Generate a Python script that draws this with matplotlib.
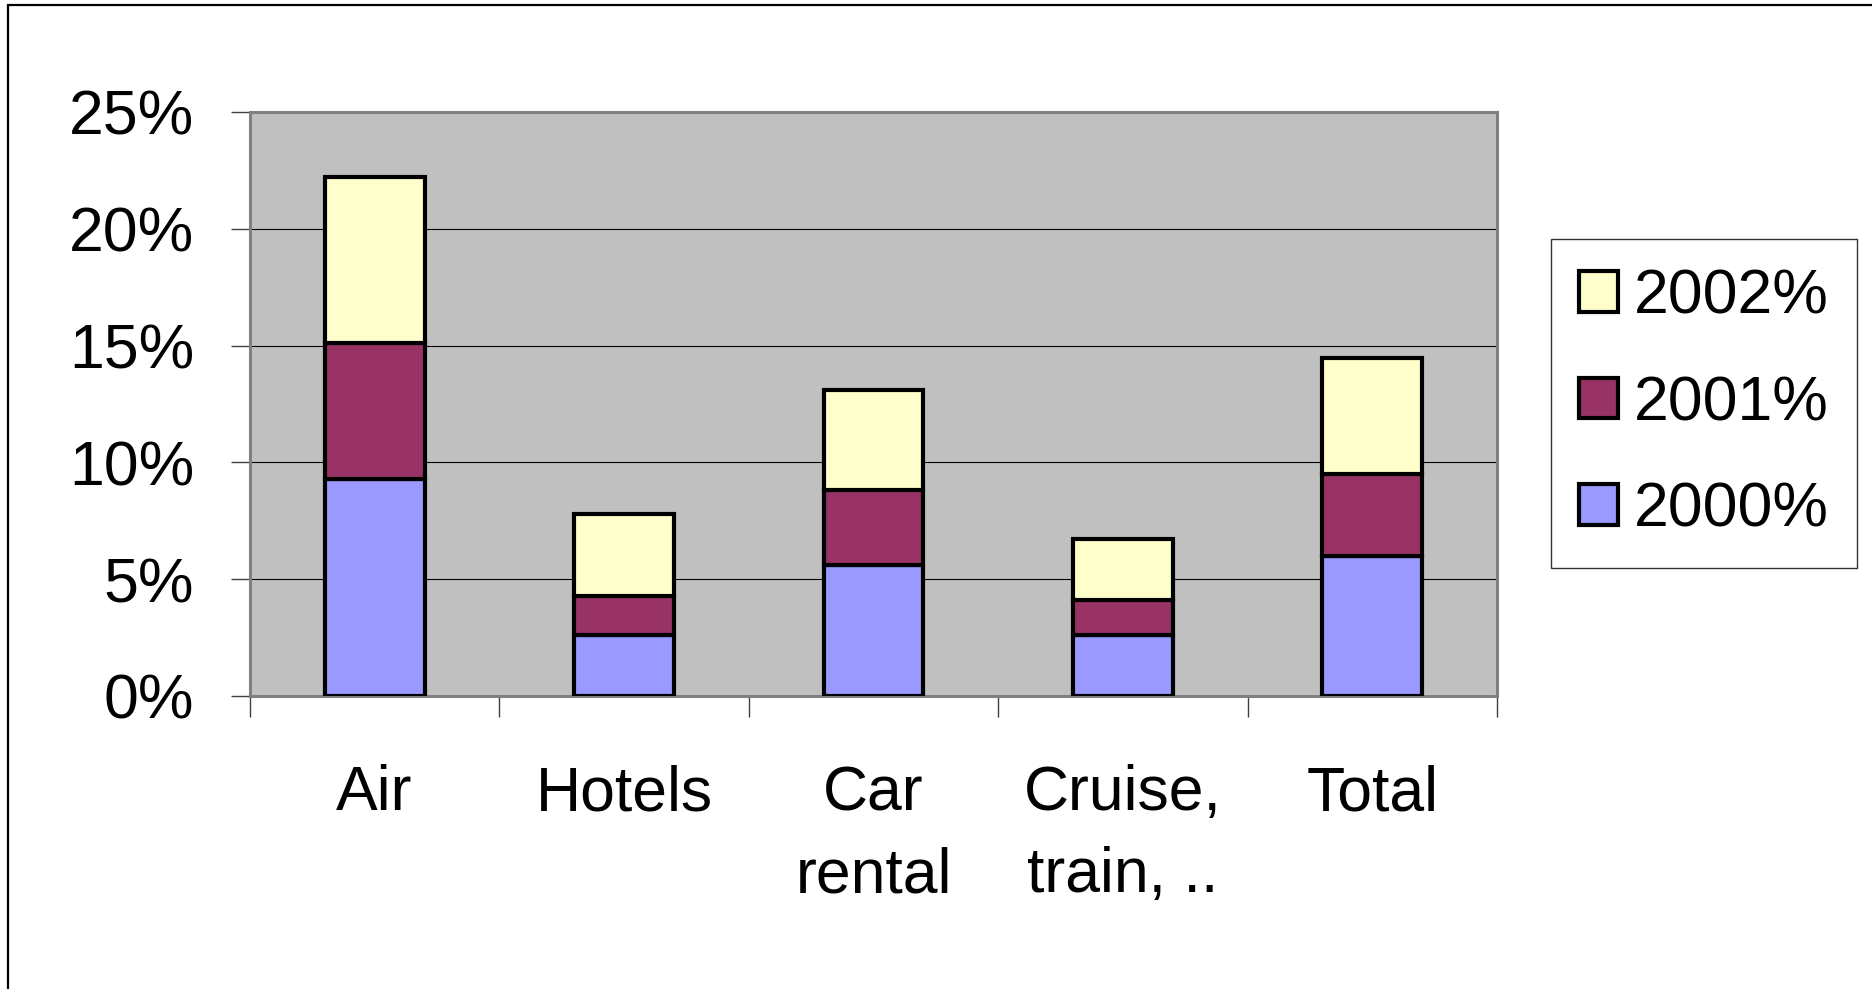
import numpy as np
import matplotlib.pyplot as plt
from matplotlib.patches import Rectangle
from matplotlib.ticker import FixedLocator, FuncFormatter

plt.rcParams['font.family'] = ['Liberation Sans', 'DejaVu Sans']

# travel spending growth by segment, stacked per year (percent)
categories = ['Air', 'Hotels', 'Car\nrental', 'Cruise,\ntrain, ..', 'Total']
years = ['2000%', '2001%', '2002%']
pct_2000 = [9.3, 2.6, 5.6, 2.6, 6.0]
pct_2001 = [5.8, 1.7, 3.2, 1.5, 3.5]
pct_2002 = [7.1, 3.5, 4.3, 2.6, 4.95]
colors = ['#9999FF', '#993366', '#FFFFCC']

fig = plt.figure(figsize=(18.72, 9.89), dpi=100)
ax = fig.add_axes([0.1335, 0.2963, 0.6662, 0.5905])
ax.set_facecolor('#C0C0C0')

x = np.arange(len(categories))
bottom = np.zeros(len(categories))
bars = []
for vals, col, lab in zip([pct_2000, pct_2001, pct_2002], colors, years):
    b = ax.bar(x, vals, width=0.4, bottom=bottom, color=col, edgecolor='black',
               linewidth=3.0, label=lab, zorder=3)
    bars.append(b)
    bottom += np.array(vals)

ax.set_xlim(-0.5, len(categories) - 0.5)
ax.set_ylim(0, 25)
ax.set_yticks(np.arange(0, 26, 5))
ax.yaxis.set_major_formatter(FuncFormatter(lambda v, p: f'{v:.0f}%'))
ax.grid(axis='y', color='black', linewidth=0.8, zorder=1)
ax.set_axisbelow(True)

# category labels in the middle, tick marks on the boundaries
ax.set_xticks(x)
ax.set_xticklabels(categories, linespacing=1.5)
ax.xaxis.set_minor_locator(FixedLocator(np.arange(-0.5, len(categories), 1)))
ax.tick_params(axis='x', which='major', length=0, pad=49, labelsize=45)
ax.tick_params(axis='x', which='minor', length=15, width=1, color='#404040')
ax.tick_params(axis='y', length=14, width=1, pad=26, labelsize=45, color='#404040')

for s in ax.spines.values():
    s.set_color('#808080')
    s.set_linewidth(2.2)

handles = [bars[2], bars[1], bars[0]]
leg = fig.legend(handles, ['2002%', '2001%', '2000%'], loc='center left',
                 bbox_to_anchor=(0.8285, 0.592), fontsize=45, frameon=True,
                 fancybox=False, edgecolor='black', handlelength=0.62,
                 handleheight=0.62, handletextpad=0.25, labelspacing=0.76,
                 borderpad=0.45, borderaxespad=0)
leg.get_frame().set_linewidth(1)

# outer chart border
fig.patches.append(Rectangle((8 / 1872, -0.1), 1.2, 1 - 5 / 989 + 0.1,
                             transform=fig.transFigure, fill=False,
                             edgecolor='black', linewidth=1.6))

fig.savefig('out.png', dpi=100)
